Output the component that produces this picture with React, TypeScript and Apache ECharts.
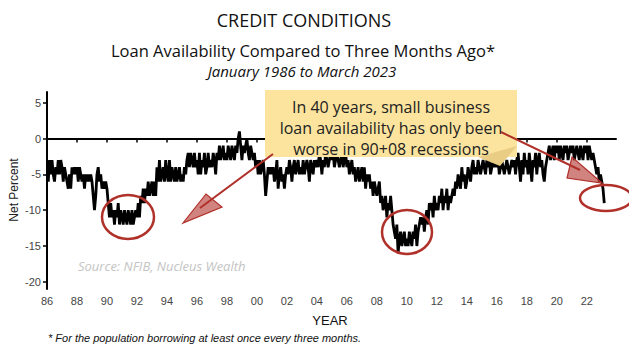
import React, { useEffect, useRef } from "react";
import * as echarts from "echarts";

const startYear = 1986;
// Monthly net percent, Jan 1986 .. Mar 2023 (one row per year)
const netPercent: number[] = [
  -5, -6, -3, -5, -3, -5, -6, -4, -5, -3, -5, -3, // 1986
  -4, -6, -4, -5, -6, -7, -5, -7, -4, -5, -4, -5, // 1987
  -4, -6, -4, -5, -6, -5, -7, -5, -6, -5, -6, -5, // 1988
  -6, -8, -10, -8, -5, -4, -6, -5, -7, -6, -7, -6, // 1989
  -7, -9, -11, -9, -11, -10, -12, -10, -11, -9, -12, -10, // 1990
  -11, -12, -10, -11, -12, -10, -11, -12, -10, -12, -11, -10, // 1991
  -11, -9, -11, -8, -9, -7, -9, -7, -8, -6, -8, -7, // 1992
  -6, -8, -6, -8, -4, -6, -3, -6, -5, -4, -6, -3, // 1993
  -5, -6, -3, -6, -4, -5, -6, -4, -6, -5, -4, -6, // 1994
  -5, -6, -4, -5, -3, -2, -4, -2, -3, -4, -2, -4, // 1995
  -3, -5, -2, -5, -3, -4, -2, -5, -4, -2, -4, -3, // 1996
  -4, -2, -3, -5, -2, -3, -1, -3, -2, -1, -3, -2, // 1997
  -3, -1, -2, -3, -1, -2, -3, -1, -2, 0, 1, -1, // 1998
  -3, -1, -2, -1, 0, -2, -3, -1, -2, -3, -2, -4, // 1999
  -3, -5, -3, -5, -4, -3, -5, -8, -6, -4, -5, -4, // 2000
  -5, -4, -6, -5, -3, -7, -5, -4, -6, -5, -7, -5, // 2001
  -4, -5, -3, -4, -6, -4, -3, -5, -4, -3, -5, -4, // 2002
  -5, -3, -5, -4, -3, -4, -6, -3, -4, -5, -3, -4, // 2003
  -3, -4, -2, -3, -5, -3, -4, -2, -3, -4, -3, -2, // 2004
  -3, -2, -4, -3, -2, -3, -4, -3, -2, -4, -3, -2, // 2005
  -4, -3, -5, -4, -3, -5, -4, -6, -5, -4, -6, -5, // 2006
  -4, -6, -4, -7, -5, -6, -5, -7, -6, -8, -6, -7, // 2007
  -8, -7, -6, -9, -8, -10, -9, -8, -11, -9, -10, -8, // 2008
  -10, -12, -13, -14, -12, -16, -14, -13, -15, -14, -13, -15, // 2009
  -14, -15, -13, -14, -15, -13, -14, -12, -15, -13, -12, -11, // 2010
  -12, -11, -13, -11, -10, -12, -9, -10, -9, -11, -8, -10, // 2011
  -9, -10, -8, -9, -7, -10, -8, -9, -7, -10, -8, -9, // 2012
  -8, -7, -8, -6, -7, -5, -6, -7, -4, -6, -5, -7, // 2013
  -6, -4, -5, -6, -4, -3, -5, -4, -5, -3, -4, -5, // 2014
  -4, -3, -4, -5, -3, -4, -3, -5, -4, -3, -4, -3, // 2015
  -4, -3, -5, -4, -3, -4, -5, -4, -3, -4, -5, -4, // 2016
  -3, -4, -3, -5, -3, -2, -4, -6, -3, -5, -2, -4, // 2017
  -3, -5, -2, -4, -6, -3, -4, -2, -5, -3, -2, -4, // 2018
  -3, -5, -6, -4, -3, -2, -1, -3, -2, -1, -3, -1, // 2019
  -2, -1, -3, -1, -2, -3, -1, -2, -1, -3, -2, -1, // 2020
  -2, -1, -3, -2, -1, -2, -3, -1, -2, -3, -1, -2, // 2021
  -1, -3, -1, -2, -3, -2, -3, -4, -5, -4, -6, -5, // 2022
  -6, -7, -9, // 2023
];

const xTickYears = [1986, 1988, 1990, 1992, 1994, 1996, 1998, 2000, 2002, 2004, 2006, 2008, 2010, 2012, 2014, 2016, 2018, 2020, 2022];
const yTicks = [-20, -15, -10, -5, 0, 5];

const titleText = "CREDIT CONDITIONS";
const subtitleText = "Loan Availability Compared to Three Months Ago*";
const dateText = "January 1986 to March 2023";
const noteLines = ["In 40 years, small business", "loan availability has only been", "worse in 90+08 recessions"];
const sourceText = "Source: NFIB, Nucleus Wealth";
const footnoteText = "* For the population borrowing at least once every three months.";

const RED = "#B0302A";

export default function App() {
  const ref = useRef<HTMLDivElement>(null);
  useEffect(() => {
    if (!ref.current) return;
    const chart = echarts.init(ref.current, undefined, { renderer: "svg" });
    const data = netPercent.map((v, i) => [startYear + i / 12, v]);
    const option: any = {
      animation: false,
      backgroundColor: "#ffffff",
      grid: { left: 47, right: 21, top: 92, bottom: 63, containLabel: false },
      xAxis: {
        type: "value",
        min: 1986,
        max: 2023.95,
        axisLine: { show: true, lineStyle: { color: "#000", width: 2 } },
        axisTick: { show: true, length: 4, lineStyle: { color: "#000", width: 1.5 }, customValues: xTickYears },
        axisLabel: {
          color: "#444",
          fontFamily: "Liberation Sans",
          fontSize: 11,
          margin: 6,
          customValues: xTickYears,
          formatter: (v: number) => String(Math.round(v) % 100).padStart(2, "0"),
        },
        splitLine: { show: false },
      },
      yAxis: {
        type: "value",
        min: -21,
        max: 6.5,
        axisLine: { show: true, lineStyle: { color: "#000", width: 2 } },
        axisTick: { show: true, length: 4, lineStyle: { color: "#000", width: 1.5 }, customValues: yTicks },
        axisLabel: {
          color: "#444",
          fontFamily: "Liberation Sans",
          fontSize: 11,
          margin: 6,
          customValues: yTicks,
          formatter: (v: number) => String(v),
        },
        splitLine: { show: false },
      },
      series: [
        {
          type: "line",
          data,
          showSymbol: false,
          symbol: "none",
          lineStyle: { color: "#000", width: 2.8, join: "miter" },
          z: 2,
        },
      ],
      graphic: [
        { type: "text", x: 304, y: 20, style: { text: titleText, font: "18px 'Open Sans'", fill: "#111", align: "center", verticalAlign: "middle" } },
        { type: "text", x: 303, y: 50, style: { text: subtitleText, font: "16.5px 'Open Sans'", fill: "#111", align: "center", verticalAlign: "middle" } },
        { type: "text", x: 302, y: 71, style: { text: dateText, font: "italic 15px 'Open Sans'", fill: "#111", align: "center", verticalAlign: "middle" } },
        { type: "text", x: 14, y: 190, rotation: Math.PI / 2, style: { text: "Net Percent", font: "12px 'Liberation Sans'", fill: "#222", align: "center", verticalAlign: "middle" } },
        { type: "text", x: 330, y: 320, style: { text: "YEAR", font: "13px 'Liberation Sans'", fill: "#111", align: "center", verticalAlign: "middle" } },
        { type: "text", x: 48, y: 338, style: { text: footnoteText, font: "italic 11px 'Liberation Sans'", fill: "#111", align: "left", verticalAlign: "middle" } },
        { type: "text", x: 78, y: 266, style: { text: sourceText, font: "italic 13px 'Open Sans'", fill: "#c4c4c4", align: "left", verticalAlign: "middle" } },
        // note box
        { type: "rect", z: 100, shape: { x: 265, y: 90, width: 252, height: 67 }, style: { fill: "#FCE49E" } },
        { type: "polygon", z: 101, shape: { points: [[478, 157], [517, 146], [500, 166]] }, style: { fill: "#E9CD84" } },
        ...noteLines.map((t, i) => ({
          type: "text",
          z: 102,
          x: 391,
          y: 107 + i * 21,
          style: { text: t, font: "16px 'Open Sans'", fill: "#222", align: "center", verticalAlign: "middle" },
        })),
        // circles
        { type: "ellipse", z: 103, shape: { cx: 128, cy: 217, rx: 26, ry: 22 }, style: { fill: "none", stroke: RED, lineWidth: 2.5 } },
        { type: "ellipse", z: 103, shape: { cx: 407, cy: 232, rx: 25, ry: 22 }, style: { fill: "none", stroke: RED, lineWidth: 2.5 } },
        { type: "ellipse", z: 103, shape: { cx: 606, cy: 198, rx: 26, ry: 13 }, style: { fill: "none", stroke: RED, lineWidth: 2.5 } },
        // arrows
        { type: "line", z: 103, shape: { x1: 273, y1: 154, x2: 200, y2: 208 }, style: { stroke: RED, lineWidth: 2 } },
        { type: "polygon", z: 103, shape: { points: [[183, 223], [206, 194], [222, 207]] }, style: { fill: "rgba(176,48,42,0.6)", stroke: RED, lineWidth: 1.2 } },
        { type: "line", z: 103, shape: { x1: 501, y1: 132, x2: 580, y2: 170 }, style: { stroke: RED, lineWidth: 2 } },
        { type: "polygon", z: 103, shape: { points: [[602, 183], [572, 157], [567, 178]] }, style: { fill: "rgba(176,48,42,0.6)", stroke: RED, lineWidth: 1.2 } },
      ],
    };
    chart.setOption(option);
    return () => chart.dispose();
  }, []);
  return <div ref={ref} style={{ width: 637, height: 352, margin: -8 }} />;
}
